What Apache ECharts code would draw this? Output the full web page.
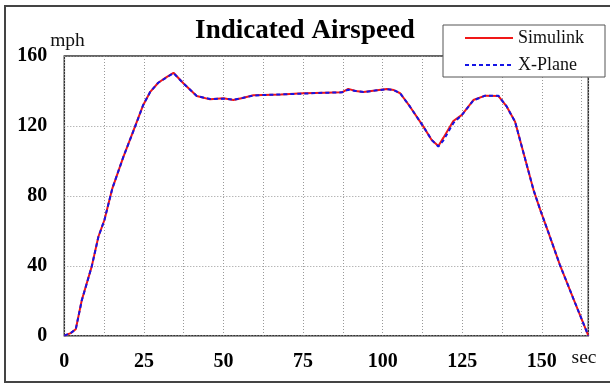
<!DOCTYPE html>
<html>
<head>
<meta charset="utf-8">
<script src="https://cdn.jsdelivr.net/npm/echarts@6/dist/echarts.min.js"></script>
<style>html,body{margin:0;padding:0;background:#fff;}#chart{width:610px;height:383px;}</style>
</head>
<body>
<div id="chart"></div>
<script>
// Time (sec)
const time = [0, 2, 3.6, 5.5, 8.6, 10.7, 12.6, 15.1, 18.5, 22.2, 24.8, 27, 29.5, 32, 34.3, 37.4, 41.6, 45.8, 50, 53.1, 56, 59.4, 62.5, 68, 75.1, 82, 87.2, 89.2, 91.5, 94, 97.6, 101.3, 103.5, 105.5, 108.6, 112.8, 115.4, 117.5, 119.1, 122.2, 124.9, 128.5, 132.2, 136.4, 139, 141.6, 147.4, 149.5, 152, 155.7, 160, 164.6];
// Indicated airspeed (mph)
const simulink = [0, 1.5, 3.7, 20.4, 39.5, 56.6, 66.2, 84.3, 102, 119.6, 132, 139.5, 144.7, 147.8, 150.4, 144.4, 137.1, 135.2, 135.8, 134.8, 136, 137.5, 137.7, 138, 138.7, 139, 139.2, 141.2, 140, 139.4, 140.2, 141.1, 140.5, 138.7, 131, 119.6, 112, 108.5, 113.3, 122.8, 126.3, 134.8, 137.3, 137.1, 131, 122.4, 83.3, 72, 59.4, 40.4, 20.8, 0];
const xplane   = [0, 1.5, 3.7, 20.2, 39.5, 56.4, 66.2, 84.3, 102, 119.4, 132, 139.5, 144.7, 147.6, 150.2, 144.4, 137.1, 135.4, 135.6, 135, 136, 137.4, 137.7, 138, 138.5, 139, 139.2, 140.7, 140, 139.4, 140.2, 141, 140.5, 138.7, 131, 119.6, 112, 108.2, 111.8, 121.6, 126.3, 134.6, 137.3, 137.2, 131, 122.4, 83.3, 72, 59.4, 40.4, 20.8, 0];
const xTickLabels = [0, 25, 50, 75, 100, 125, 150];
const yTickLabels = [0, 40, 80, 120, 160];

const serif = '"Liberation Serif", "Times New Roman", serif';
const chart = echarts.init(document.getElementById('chart'), null, {renderer: 'canvas'});
const pairs = arr => time.map((t, i) => [t, arr[i]]);

chart.setOption({
  animation: false,
  backgroundColor: '#fff',
  title: {
    text: 'Indicated Airspeed',
    left: 'center',
    top: 18,
    padding: 0,
    textStyle: {fontFamily: serif, fontWeight: 'bold', fontSize: 27, color: '#000'}
  },
  legend: {
    orient: 'vertical',
    left: 443,
    top: 25,
    padding: [4, 21, 3, 21],
    itemGap: 9,
    itemWidth: 48,
    itemHeight: 18,
    backgroundColor: '#fff',
    borderColor: '#555',
    borderWidth: 1,
    itemStyle: {opacity: 0},
    textStyle: {fontFamily: serif, fontSize: 18, color: '#111'},
    data: ['Simulink', 'X-Plane']
  },
  graphic: [{
    type: 'rect',
    shape: {x: 5, y: 6, width: 640, height: 376},
    style: {fill: 'none', stroke: '#444', lineWidth: 2},
    silent: true,
    z: -1
  }, {
    type: 'text',
    x: 67.5, y: 40.5,
    style: {text: 'mph', fontFamily: serif, fontSize: 19.5, fill: '#111', align: 'center', verticalAlign: 'middle'},
    silent: true
  }, {
    type: 'text',
    x: 584, y: 358,
    style: {text: 'sec', fontFamily: serif, fontSize: 19.5, fill: '#111', align: 'center', verticalAlign: 'middle'},
    silent: true
  }],
  grid: {
    left: 64.3, top: 56, right: 21.7, bottom: 47.3,
    show: true, borderColor: '#333', borderWidth: 1.5, containLabel: false
  },
  xAxis: {
    type: 'value',
    min: 0, max: 164.6, interval: 12.5,
    axisLine: {show: false},
    axisTick: {show: false},
    axisLabel: {
      margin: 16,
      fontFamily: serif, fontWeight: 'bold', fontSize: 20, color: '#000',
      showMaxLabel: false,
      formatter: v => xTickLabels.includes(v) ? String(v) : ''
    },
    splitLine: {show: true, lineStyle: {color: '#999', type: [1, 2], width: 1}}
  },
  yAxis: {
    type: 'value',
    min: 0, max: 160, interval: 40,
    axisLine: {show: false},
    axisTick: {show: false},
    axisLabel: {
      margin: 17,
      fontFamily: serif, fontWeight: 'bold', fontSize: 20, color: '#000',
      formatter: v => yTickLabels.includes(v) ? String(v) : ''
    },
    splitLine: {show: true, lineStyle: {color: '#999', type: [1, 2], width: 1}}
  },
  series: [{
    name: 'Simulink',
    type: 'line',
    data: pairs(simulink),
    symbol: 'none',
    lineStyle: {color: '#f01818', width: 2},
    itemStyle: {color: '#f01818'}
  }, {
    name: 'X-Plane',
    type: 'line',
    data: pairs(xplane),
    symbol: 'none',
    lineStyle: {color: '#1414e6', width: 2, type: [4, 3]},
    itemStyle: {color: '#1414e6'}
  }]
});
</script>
</body>
</html>
